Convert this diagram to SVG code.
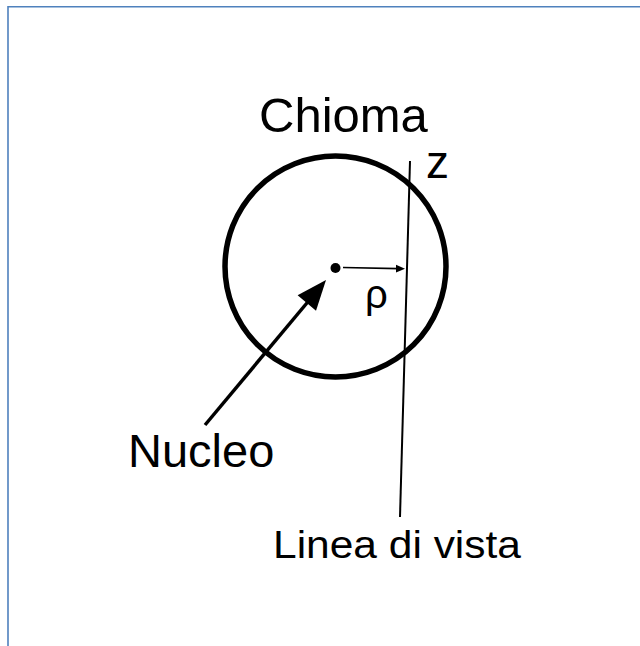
<svg xmlns="http://www.w3.org/2000/svg" width="640" height="646" viewBox="0 0 640 646">
<style>
text{font-family:"Liberation Sans",Arial,sans-serif;fill:#000}
.ln{stroke:#000;fill:none}
</style>
<rect width="640" height="646" fill="#fff"/>
<g id="border" stroke="#4F81BD" stroke-width="1.6" fill="none">
<path d="M8,646 V6.8 H640"/>
</g>
<g id="chioma">
<circle cx="335.5" cy="266.5" r="110.5" class="ln" stroke-width="5.5"/>
<text x="259" y="132" font-size="49">Chioma</text>
</g>
<g id="nucleo">
<circle cx="335.5" cy="268" r="5" fill="#000"/>
<text x="128" y="467" font-size="47">Nucleo</text>
</g>
<g id="linea">
<text x="273" y="558" font-size="38" textLength="248" lengthAdjust="spacingAndGlyphs">Linea di vista</text>
<text x="426" y="178" font-size="46">z</text>
</g>
<g id="rho">
<text x="365" y="308" font-size="40">ρ</text>
</g>
<g id="connectors">
<line x1="410" y1="161" x2="400" y2="517" class="ln" stroke-width="2"/>
<line x1="343" y1="267.5" x2="398" y2="268.6" class="ln" stroke-width="1.6"/>
<polygon points="405,268.8 396,264.8 396,272.6" fill="#000"/>
<line x1="205" y1="425" x2="309" y2="300.5" class="ln" stroke-width="3.5"/>
<polygon points="326,280 297.6,295.3 316,310.7" fill="#000"/>
</g>
</svg>
